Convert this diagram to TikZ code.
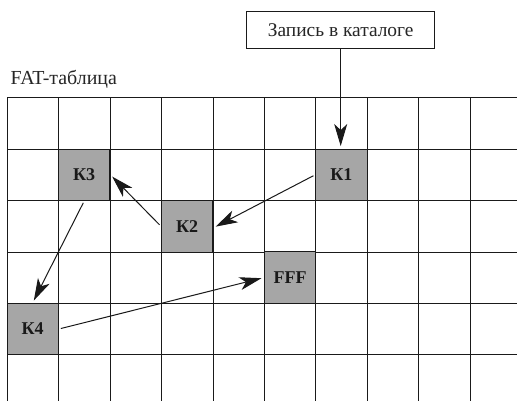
\documentclass[tikz,border=0pt]{standalone}
\usepackage{fontspec}
\setmainfont{Liberation Serif}
\usetikzlibrary{arrows.meta}
\definecolor{gridc}{HTML}{1A1A1A}
\definecolor{cellc}{HTML}{A6A6A6}
\tikzset{
  cell/.style={draw=gridc,line width=1pt,fill=cellc,minimum width=51.4pt,minimum height=51.5pt,inner sep=0pt,font=\fontsize{18}{20}\selectfont\bfseries,text=black!90},
  link/.style={draw=black!90,line width=1pt,-{Stealth[length=22pt,width=13pt,inset=6pt]},shorten <=2pt,shorten >=2.5pt},
  gridline/.style={draw=gridc,line width=1pt},
  capt/.style={font=\fontsize{19.4}{21}\selectfont,text=black!85}
}
\begin{document}
\begin{tikzpicture}[x=1pt,y=-1pt]
\useasboundingbox[fill=white] (0,0) rectangle (517,401);
\foreach \yy in {97.7,149.1,200.6,252,303.3,354.8} \draw[gridline] (7,\yy) -- (517,\yy);
\foreach \xx in {7,58.5,110,161.5,213,264.5,315.8,367,418.5,470} \draw[gridline] (\xx,97.7) -- (\xx,401);
\node[cell] (k1) at (341.4,174.8) {К1};
\node[cell] (k2) at (187.2,226.3) {К2};
\node[cell] (k3) at (84.2,174.8) {К3};
\node[cell] (k4) at (32.7,329) {К4};
\node[cell] (fff) at (290.1,277.6) {FFF};
\node[draw=gridc,line width=1pt,fill=white,minimum width=188.5pt,minimum height=36.5pt,inner sep=0pt,capt] (box) at (340.7,30) {Запись в каталоге};
\node[capt,anchor=base west,inner sep=0pt,font=\fontsize{19.9}{21}\selectfont] (title) at (10.5,84.3) {FAT-таблица};
\draw[link,shorten <=0pt] (box.south) -- (box.south |- k1.north);
\draw[link] (k1.west) -- ([yshift=-1.5pt]k2.east);
\draw[link] (k2.west) -- (k3.east);
\draw[link] (k3.south) -- (k4.north);
\draw[link] (k4.east) -- (fff.west);
\end{tikzpicture}
\end{document}
